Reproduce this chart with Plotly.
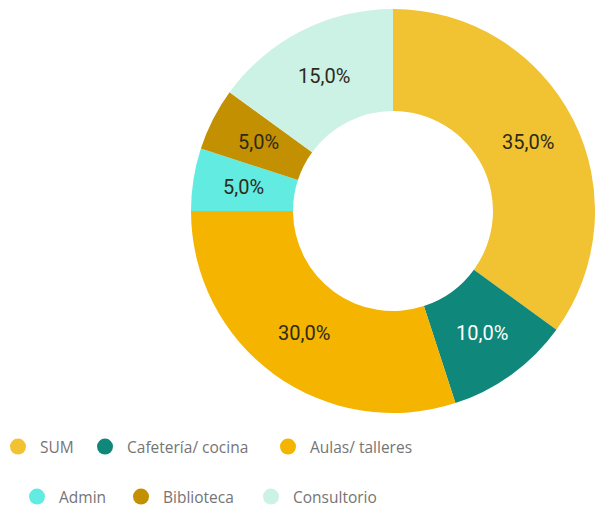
import math
import plotly.graph_objects as go

# Distribución de superficies por uso
categories = ["SUM", "Cafetería/ cocina", "Aulas/ talleres", "Admin", "Biblioteca", "Consultorio"]
shares = [35, 10, 30, 5, 5, 15]
colors = ["#F1C232", "#0F877A", "#F4B400", "#62EBE1", "#C29000", "#CCF1E5"]
text_colors = ["#2E2A1A", "#FFFFFF", "#2E2A1A", "#2E2A1A", "#2E2A1A", "#2E2A1A"]

W, H = 595, 508

# Donut geometry (pixels)
CX, CY = 393, 211
R_OUT = 202
HOLE = 0.495
R_LABEL = R_OUT * (1 + HOLE) / 2

fig = go.Figure()

fig.add_trace(go.Pie(
    labels=categories,
    values=shares,
    sort=False,
    direction="clockwise",
    rotation=0,
    hole=HOLE,
    marker=dict(colors=colors, line=dict(width=0)),
    textinfo="none",
    showlegend=False,
    hoverinfo="label+percent",
    domain=dict(x=[(CX - R_OUT) / W, min(1.0, (CX + R_OUT) / W)],
                y=[(H - CY - R_OUT) / H, (H - CY + R_OUT) / H]),
))

# Percentage labels at the middle of each ring segment, horizontal
total = sum(shares)
cum = 0.0
for v, tc in zip(shares, text_colors):
    frac_mid = (cum + v / 2) / total
    cum += v
    ang = 2 * math.pi * frac_mid
    px = CX + R_LABEL * math.sin(ang)
    py = CY - R_LABEL * math.cos(ang)
    label = f"{100 * v / total:.1f}%".replace(".", ",")
    fig.add_annotation(
        x=px / W, y=(H - py) / H, xref="paper", yref="paper",
        text=label, showarrow=False, xanchor="center", yanchor="middle",
        font=dict(family="Roboto", size=20, color=tc),
    )

# Legend: one round-marker entry per legend box, arranged in two rows
legend_pos = [(17, 447), (104, 447), (287, 447), (36, 497), (140, 497), (270, 497)]
legend_font = dict(family="Open Sans", size=15.5, color="#757575")
layout_legends = {}
for i, (name, col) in enumerate(zip(categories, colors)):
    key = "legend" if i == 0 else f"legend{i + 1}"
    fig.add_trace(go.Scatter(
        x=[None], y=[None], mode="markers", name=name,
        marker=dict(symbol="circle", size=16, color=col),
        legend=key, hoverinfo="skip",
    ))
    lx, ly = legend_pos[i]
    layout_legends[key] = dict(
        orientation="h", x=(lx - 17) / W, y=(H - ly) / H,
        xanchor="left", yanchor="middle", indentation=-4, itemwidth=34,
        font=legend_font, bgcolor="rgba(0,0,0,0)", itemclick=False,
    )

fig.update_layout(
    width=W, height=H,
    margin=dict(l=0, r=0, t=0, b=0, autoexpand=False),
    paper_bgcolor="white",
    plot_bgcolor="white",
    separators=",.",
    xaxis=dict(visible=False),
    yaxis=dict(visible=False),
    **layout_legends,
)

fig.write_html("out.html")
